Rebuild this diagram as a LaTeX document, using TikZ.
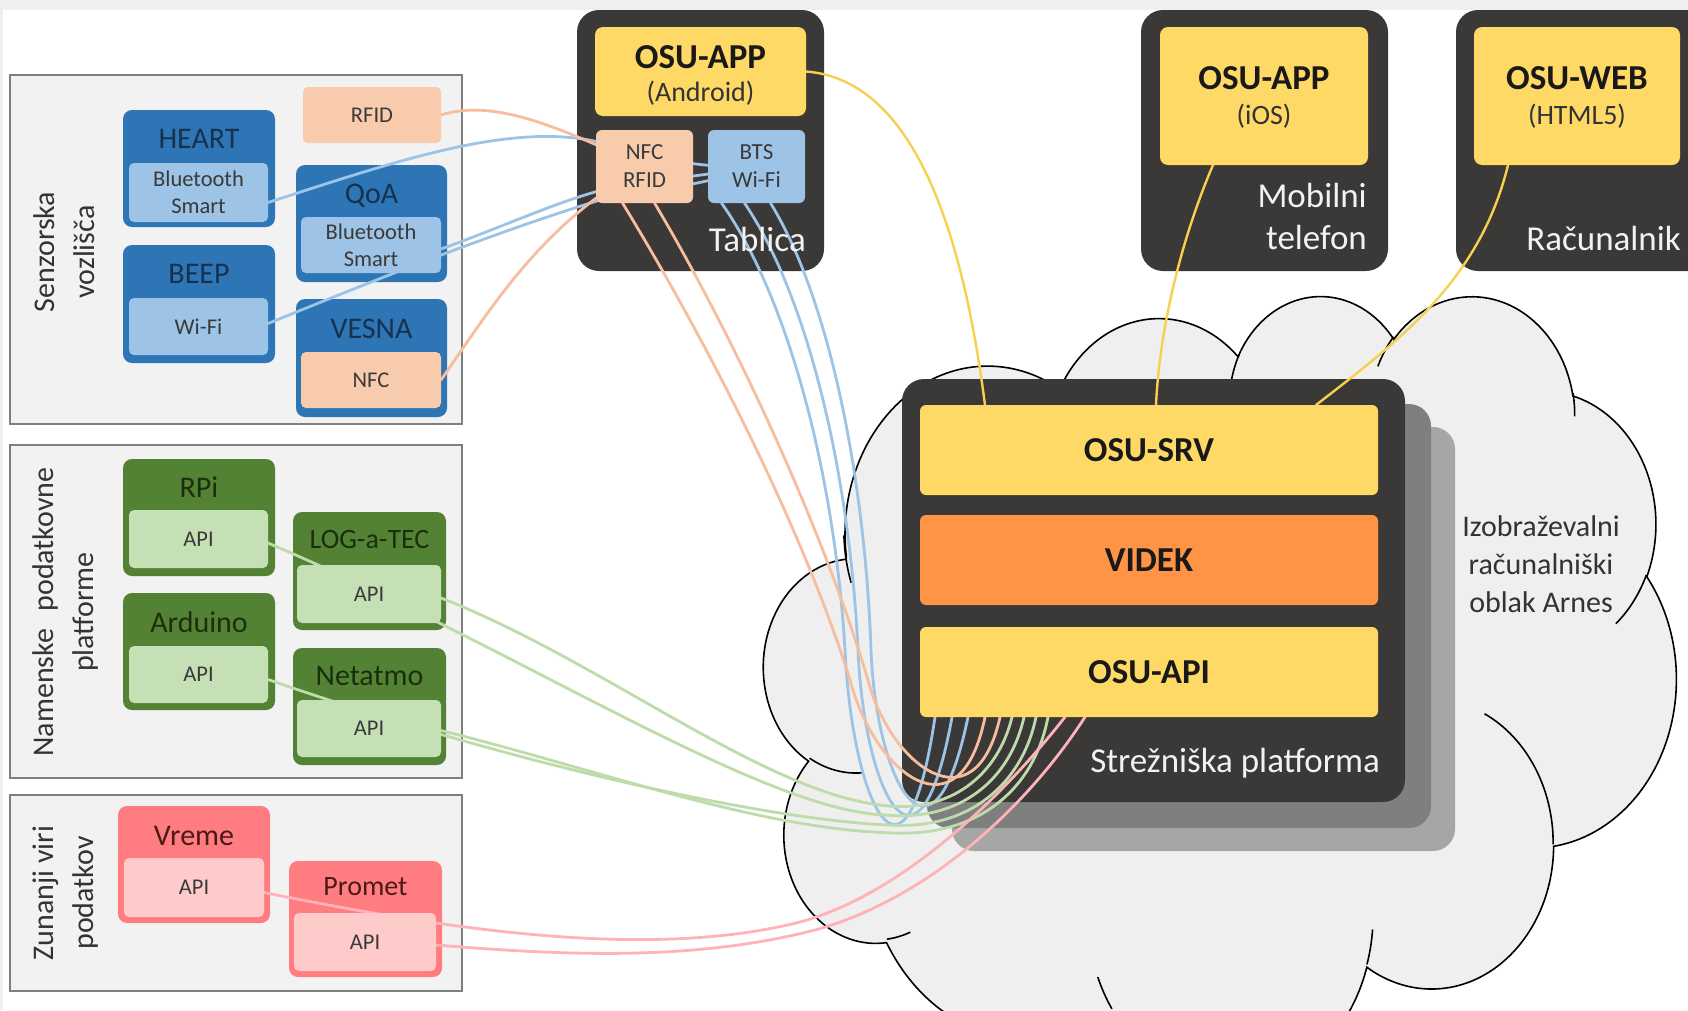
\documentclass[tikz,border=0pt]{standalone}
\usepackage{fontspec}
\setmainfont{Carlito}
\usetikzlibrary{calc}
\pgfdeclarelayer{back}
\pgfdeclarelayer{wires}
\pgfsetlayers{back,wires,main}
\definecolor{edgegray}{HTML}{EFEFEF}
\definecolor{panelfill}{HTML}{F2F2F2}
\definecolor{panelline}{HTML}{7F7F7F}
\definecolor{bluedark}{HTML}{2E75B6}
\definecolor{bluelight}{HTML}{9DC3E6}
\definecolor{greendark}{HTML}{548235}
\definecolor{greenlight}{HTML}{C5E0B4}
\definecolor{reddark}{HTML}{FF7C80}
\definecolor{redlight}{HTML}{FFCACA}
\definecolor{peach}{HTML}{F8CBAD}
\definecolor{darkbox}{HTML}{3B3838}
\definecolor{yel}{HTML}{FFD966}
\definecolor{orng}{HTML}{FF9447}
\definecolor{cloudfill}{HTML}{EFEFEF}
\definecolor{shmid}{HTML}{7F7F7F}
\definecolor{shlight}{HTML}{A6A6A6}
\definecolor{wblue}{HTML}{9DC3E6}
\definecolor{wpeach}{HTML}{F6BE9C}
\definecolor{wgreen}{HTML}{BEDCAA}
\definecolor{wpink}{HTML}{FFB3B8}
\definecolor{wyel}{HTML}{F7D04F}
\definecolor{tblue}{HTML}{17324F}
\definecolor{tgreen}{HTML}{1B2E0F}
\definecolor{tred}{HTML}{4A1A1A}
\definecolor{innertext}{HTML}{3A3A3A}
\definecolor{labeltext}{HTML}{333333}
\definecolor{devwhite}{HTML}{F2F2F2}
\pgfmathsetmacro\cldsx{912/43.2}
\pgfmathsetmacro\cldsy{790/43.2}
\newcommand\bxn[7]{\node[bx,#6,minimum width={#4pt-#2pt},minimum height={#5pt-#3pt}] (#1) at (#2,#3) {#7};}
\newcommand\CA[4]{arc[x radius={#1*\cldsx}, y radius={#2*\cldsy}, start angle={-pa(#1,#2,#3)}, delta angle={-mod(pa(#1,#2,#3+#4)-pa(#1,#2,#3)+720,360)}]}
\newcommand\CP[2]{({764+#1*\cldsx},{-294-#2*\cldsy})}
\tikzset{
  bx/.style={rectangle, inner sep=0pt, outer sep=0pt, anchor=north west, align=center},
  panel/.style={fill=panelfill, draw=panelline, line width=1.5pt},
  obox/.style={fill=#1, rounded corners=9pt},
  ibox/.style={fill=#1, rounded corners=5pt, text=innertext, font=\fontsize{22.5}{27}\selectfont},
  ttl/.style={text=#1, font=\fontsize{30}{36}\selectfont, inner sep=0pt},
  ttls/.style={text=#1, font=\fontsize{28}{34}\selectfont, inner sep=0pt},
  dark/.style={fill=darkbox, rounded corners=22pt},
  ybox/.style={fill=yel, rounded corners=8pt},
  tbox/.style={fill=#1, rounded corners=6pt, text=innertext, font=\fontsize{23}{28}\selectfont},
  sbox/.style={fill=#1, rounded corners=6pt, text=black!90, font=\bfseries\fontsize{35}{40}\selectfont},
  bt/.style={text=black!90, font=\bfseries\fontsize{35}{40}\selectfont, inner sep=0pt},
  st/.style={text=black!80, font=\fontsize{28}{34}\selectfont, inner sep=0pt},
  devtext/.style={text=devwhite, font=\fontsize{35}{42}\selectfont, inner sep=0pt},
  plabel/.style={rotate=90, align=center, text=labeltext, font=\fontsize{30}{40}\selectfont, inner sep=0pt},
  cloudtext/.style={align=center, text=labeltext, font=\fontsize{30}{37.7}\selectfont, inner sep=0pt},
  cloudline/.style={draw=black, line width=1.6pt},
  wire/.style={line width=2.8pt, line cap=round},
  wb/.style={wire, draw=wblue},
  wp/.style={wire, draw=wpeach},
  wg/.style={wire, draw=wgreen},
  wk/.style={wire, draw=wpink},
  wy/.style={line width=2.4pt, line cap=round, draw=wyel},
}
\begin{document}
\begin{tikzpicture}[x=1pt, y=-1pt, declare function={pa(\rA,\rB,\ang)=atan2(\rA*sin(\ang),\rB*cos(\ang));}]
\useasboundingbox (0,0) rectangle (1688,1010);
\begin{pgfonlayer}{back}
\fill[white] (0,0) rectangle (1688,1010);
\fill[edgegray] (0,0) rectangle (1688,10);
\fill[edgegray] (0,0) rectangle (3,1010);
% panels
\bxn{pnl1}{10}{75}{462}{424}{panel}{}
\bxn{pnl2}{10}{445}{462}{778}{panel}{}
\bxn{pnl3}{10}{795}{462}{991}{panel}{}
% outer sensor / platform boxes
\bxn{heart}{123}{110}{275}{227}{obox=bluedark}{}
\bxn{qoa}{296}{165}{447}{282}{obox=bluedark}{}
\bxn{beep}{123}{245}{275}{363}{obox=bluedark}{}
\bxn{vesna}{296}{299}{447}{417}{obox=bluedark}{}
\bxn{rpi}{123}{459}{275}{576}{obox=greendark}{}
\bxn{loga}{293}{512}{446}{630}{obox=greendark}{}
\bxn{ardu}{123}{593}{275}{710}{obox=greendark}{}
\bxn{neta}{293}{648}{446}{765}{obox=greendark}{}
\bxn{vreme}{118}{806}{270}{923}{obox=reddark}{}
\bxn{promet}{289}{861}{442}{977}{obox=reddark}{}
% cloud
\begin{scope}[y=1pt]
\filldraw[fill=cloudfill, cloudline] \CP{3.900}{14.370}
  \CA{6.753}{9.190}{-190.4875}{123.7805}
  \CA{5.333}{7.267}{-144.1024}{89.9452}
  \CA{4.365}{5.945}{-145.8079}{99.7230}
  \CA{4.857}{6.595}{-130.9861}{117.2417}
  \CA{5.333}{7.273}{-78.7089}{109.0269}
  \CA{6.775}{9.220}{-46.2673}{130.2690}
  \CA{5.785}{7.867}{0.6250}{114.0333}
  \CA{6.752}{9.215}{22.4516}{115.1726}
  \CA{7.720}{10.543}{66.2426}{75.7110}
  \CA{4.360}{5.918}{-274.9421}{146.7356}
  \CA{4.345}{5.945}{-246.8285}{152.5189} -- cycle;
\draw[cloudline]
  \CP{4.693}{26.177} \CA{4.345}{5.945}{86.7420}{26.4295}
  \CP{6.928}{34.899} \CA{4.360}{5.918}{73.6105}{11.4475}
  \CP{16.478}{39.090} \CA{6.752}{9.215}{137.6242}{14.0811}
  \CP{28.827}{34.751} \CA{6.752}{9.215}{6.4533}{15.9984}
  \CP{34.129}{22.954} \CA{5.785}{7.867}{-70.2924}{70.9174}
  \CP{41.798}{15.354} \CA{5.333}{7.273}{30.3180}{27.7515}
  \CP{38.324}{5.426} \CA{4.857}{6.595}{-13.7443}{14.8589}
  \CP{29.078}{3.952} \CA{4.857}{6.595}{-149.1815}{18.1954}
  \CP{22.141}{4.720} \CA{4.365}{5.945}{-163.4943}{17.6864}
  \CP{14.000}{5.192} \CA{6.753}{9.190}{-66.7070}{12.3194}
  \CP{4.127}{15.789} \CA{6.753}{9.190}{155.6472}{21.7093};
\end{scope}
% server platform with shadows
\fill[shlight, rounded corners=22pt] (952,427) rectangle (1455,851);
\fill[shmid, rounded corners=22pt] (927,404) rectangle (1431,828);
\bxn{server}{902}{379}{1405}{802}{dark}{}
% devices
\bxn{tablet}{577}{10}{824}{271}{dark}{}
\bxn{phone}{1141}{10}{1388}{271}{dark}{}
\bxn{computer}{1456}{10}{1712}{271}{dark}{}
\end{pgfonlayer}

% ---------- main layer: inner boxes and texts ----------
\bxn{heartbt}{129}{163}{268}{222}{ibox=bluelight}{Bluetooth\\Smart}
\bxn{rfid}{303}{87}{441}{143}{ibox=peach}{RFID}
\bxn{qoabt}{301}{217}{441}{273}{ibox=bluelight}{Bluetooth\\Smart}
\bxn{beepwifi}{129}{298}{268}{355}{ibox=bluelight}{Wi-Fi}
\bxn{vesnanfc}{301}{352}{441}{408}{ibox=peach}{NFC}
\bxn{rpiapi}{129}{510}{268}{568}{ibox=greenlight}{API}
\bxn{logapi}{297}{565}{441}{623}{ibox=greenlight}{API}
\bxn{arduapi}{129}{646}{268}{703}{ibox=greenlight}{API}
\bxn{netapi}{297}{700}{441}{757}{ibox=greenlight}{API}
\bxn{vremeapi}{124}{858}{264}{917}{ibox=redlight}{API}
\bxn{prometapi}{294}{913}{436}{971}{ibox=redlight}{API}
\node[ttl=tblue] (heart-t) at (199,139) {HEART};
\node[ttl=tblue] (qoa-t) at (371.5,196) {QoA};
\node[ttl=tblue] (beep-t) at (199,274) {BEEP};
\node[ttl=tblue] (vesna-t) at (371.5,329) {VESNA};
\node[ttl=tgreen] (rpi-t) at (199,487) {RPi};
\node[ttls=tgreen] (loga-t) at (369.5,540) {LOG-a-TEC};
\node[ttl=tgreen] (ardu-t) at (199,622) {Arduino};
\node[ttl=tgreen] (neta-t) at (369.5,676) {Netatmo};
\node[ttl=tred] (vreme-t) at (194,836) {Vreme};
\node[ttls=tred] (promet-t) at (365.5,887) {Promet};
\node[plabel] (pl1) at (64,252) {Senzorska\\vozlišča};
\node[plabel] (pl2) at (66,612) {Namenske\hspace{0.35em} podatkovne\\platforme};
\node[plabel] (pl3) at (66,893) {Zunanji viri\\podatkov};
% tablet
\bxn{andr}{595}{27}{806}{116}{ybox}{}
\node[bt] (andr-t) at (700.5,57) {OSU-APP};
\node[st] (andr-s) at (700.5,93) {(Android)};
\bxn{tnfc}{596}{130}{693}{203}{tbox=peach}{NFC\\RFID}
\bxn{tbts}{708}{130}{805}{203}{tbox=bluelight}{BTS\\Wi-Fi}
\node[devtext, anchor=east] (tabl) at (806,239) {Tablica};
% phone
\bxn{ios}{1160}{27}{1368}{165}{ybox}{}
\node[bt] (ios-t) at (1264,78) {OSU-APP};
\node[st] (ios-s) at (1264,116) {(iOS)};
\node[devtext, anchor=east, align=right] (mob) at (1367,216) {Mobilni\\telefon};
% computer
\bxn{web}{1474}{27}{1680}{165}{ybox}{}
\node[bt] (web-t) at (1577,78) {OSU-WEB};
\node[st] (web-s) at (1577,116) {(HTML5)};
\node[devtext, anchor=east] (racun) at (1681,238) {Računalnik};
% server
\bxn{srv}{920}{405}{1378}{495}{sbox=yel}{OSU-SRV}
\bxn{videk}{920}{515}{1378}{605}{sbox=orng}{VIDEK}
\bxn{api}{920}{627}{1378}{717}{sbox=yel}{OSU-API}
\node[devtext, anchor=east] (strez) at (1380,763) {Strežniška platforma};
\node[cloudtext] (oblak) at (1541,564) {Izobraževalni\\računalniški\\oblak Arnes};

% ---------- wires ----------
\begin{pgfonlayer}{wires}
% sensors to tablet
\draw[wb] ($(heartbt.east)+(0,10)$) .. controls (400,160) and (520,118) .. (610,145) .. controls (660,158) and (690,168) .. (tbts.center);
\draw[wb] ($(qoabt.east)+(0,4)$) .. controls (500,228) and (560,200) .. (610,188) .. controls (650,180) and (690,178) .. (tbts.center);
\draw[wb] ($(beepwifi.east)+(0,-3)$) .. controls (380,278) and (500,230) .. (610,197) .. controls (650,188) and (690,190) .. (tbts.center);
\draw[wp] (rfid.east) .. controls (495,98) and (560,128) .. (tnfc.center);
\draw[wp] (vesnanfc.east) .. controls (490,310) and (540,225) .. (tnfc.center);
% tablet to server
\draw[wb] ($(tbts.south)+(-35,0)$) .. controls (790,300) and (835,480) .. (845,650) .. controls (852,800) and (905,920) .. ($(api.south)+(-214,0)$);
\draw[wb] ($(tbts.south)+(-12,0)$) .. controls (810,300) and (850,480) .. (858,650) .. controls (864,790) and (918,905) .. ($(api.south)+(-197,0)$);
\draw[wb] ($(tbts.south)+(14,0)$) .. controls (830,300) and (865,480) .. (871,650) .. controls (876,780) and (932,890) .. ($(api.south)+(-181,0)$);
\draw[wp] ($(tnfc.south)+(-22,0)$) .. controls (700,330) and (800,520) .. (850,680) .. controls (875,775) and (960,840) .. ($(api.south)+(-164,0)$);
\draw[wp] ($(tnfc.south)+(10,0)$) .. controls (730,330) and (820,520) .. (868,680) .. controls (890,765) and (975,830) .. ($(api.south)+(-149,0)$);
% platforms to server
\draw[wg] ($(logapi.east)+(0,4)$) .. controls (600,660) and (760,790) .. (880,805) .. controls (950,815) and (998,775) .. ($(api.south)+(-137,0)$);
\draw[wg] ($(rpiapi.east)+(0,4)$) .. controls (520,650) and (760,810) .. (885,815) .. controls (960,822) and (1010,780) .. ($(api.south)+(-125,0)$);
\draw[wg] ($(arduapi.east)+(0,5)$) .. controls (500,760) and (760,820) .. (890,825) .. controls (968,830) and (1022,785) .. ($(api.south)+(-113,0)$);
\draw[wg] ($(netapi.east)+(0,2)$) .. controls (600,770) and (760,830) .. (895,833) .. controls (978,836) and (1034,790) .. ($(api.south)+(-101,0)$);
% external sources to server
\draw[wk] ($(vremeapi.east)+(0,5)$) .. controls (450,930) and (650,960) .. (800,922) .. controls (900,895) and (1000,800) .. ($(api.south)+(-84,0)$);
\draw[wk] ($(prometapi.east)+(0,3)$) .. controls (560,955) and (690,962) .. (815,930) .. controls (925,900) and (1025,810) .. ($(api.south)+(-64,0)$);
% clients to OSU-SRV
\draw[wy] (andr.east) .. controls (920,80) and (965,250) .. ($(srv.north)+(-164,0)$);
\draw[wy] ($(ios.south)+(-51,0)$) .. controls (1185,230) and (1160,320) .. ($(srv.north)+(7,0)$);
\draw[wy] ($(web.south)+(-69,0)$) .. controls (1480,280) and (1400,340) .. ($(srv.north)+(167,0)$);
\end{pgfonlayer}
\end{tikzpicture}
\end{document}
